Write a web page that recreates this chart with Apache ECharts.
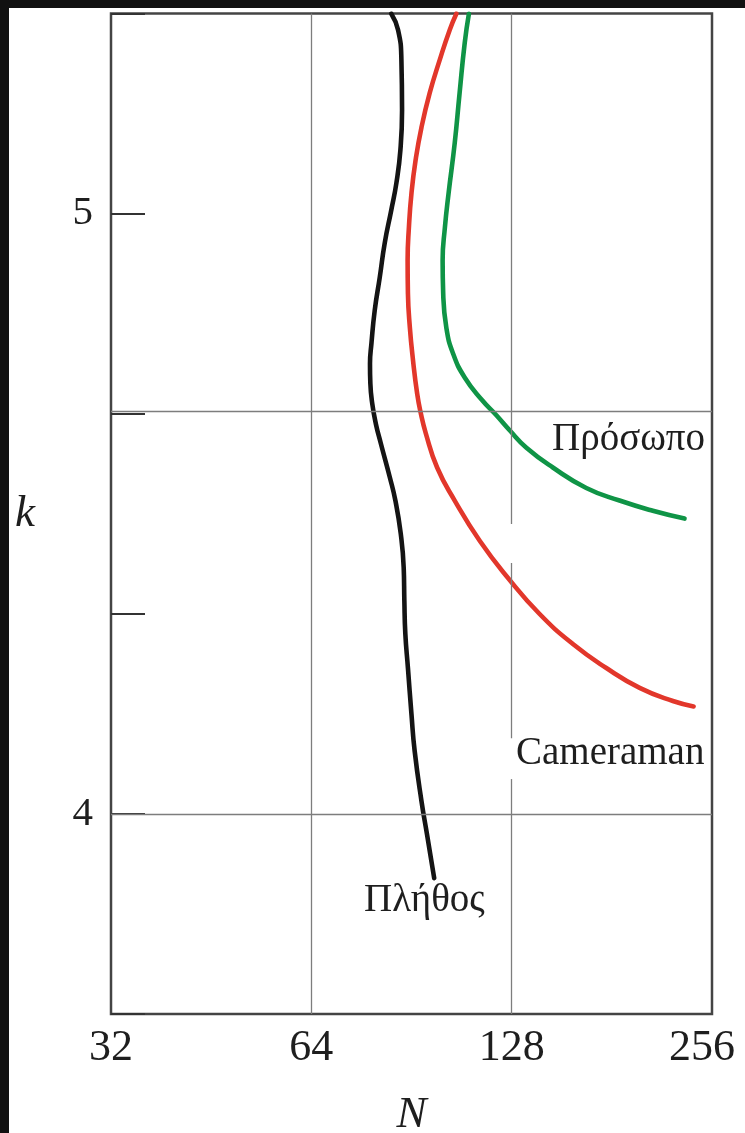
<!DOCTYPE html>
<html>
<head>
<meta charset="utf-8">
<script src="https://cdn.jsdelivr.net/npm/echarts@6/dist/echarts.min.js"></script>
<style>
  html, body { margin: 0; padding: 0; background: #fff; }
  #chart { position: absolute; left: 0; top: 0; width: 745px; height: 1133px; background: #fff; }
  .edge { position: absolute; background: #111; z-index: 5; }
</style>
</head>
<body>
<div id="chart"></div>
<div class="edge" style="left:0;top:0;width:745px;height:8px;"></div>
<div class="edge" style="left:0;top:0;width:9px;height:1133px;"></div>
<script>
// Block size N (log2 axis) versus k for three test images
const xTicks = [32, 64, 128, 256];
const yLabels = [4, 5];

const nPlethos = [84.4, 86.4, 87.4, 87.6, 87.1, 85.9, 84.4, 82.5, 81.1, 79.7, 78.8, 78.4, 78.5, 79.0,
                  80.0, 81.4, 84.0, 85.6, 87.2, 88.1, 88.3, 88.6, 89.4, 90.5, 91.5, 93.7, 95.5, 97.9];
const kPlethos = [5.333, 5.306, 5.256, 5.172, 5.106, 5.051, 5.006, 4.951, 4.894, 4.839, 4.784, 4.750, 4.717, 4.684,
                  4.650, 4.617, 4.560, 4.522, 4.467, 4.410, 4.355, 4.300, 4.243, 4.166, 4.105, 4.021, 3.966, 3.893];

const nCameraman = [105.7, 103.3, 99.8, 96.4, 93.7, 91.8, 90.5, 89.7, 89.3, 89.4, 90.0, 91.0, 92.3, 93.4, 95.1,
                    98.9, 105.1, 114.6, 126.4, 141.0, 158.2, 177.6, 199.3, 223.6, 240.2];
const kCameraman = [5.333, 5.306, 5.256, 5.201, 5.144, 5.089, 5.034, 4.977, 4.922, 4.867, 4.810, 4.755, 4.700, 4.669, 4.634,
                    4.577, 4.522, 4.455, 4.393, 4.333, 4.283, 4.243, 4.210, 4.188, 4.179];

const nProsopo = [110.4, 108.8, 106.9, 105.1, 102.9, 101.6, 100.8, 101.0, 102.1, 104.5, 108.8, 115.6, 121.4,
                  127.1, 134.7, 147.6, 165.7, 185.9, 208.6, 232.8];
const kProsopo = [5.333, 5.284, 5.201, 5.117, 5.034, 4.977, 4.922, 4.867, 4.810, 4.767, 4.727, 4.689, 4.664,
                  4.639, 4.610, 4.577, 4.543, 4.522, 4.505, 4.492];

const zip = (xs, ys) => xs.map((x, i) => [x, ys[i]]);

const TEXT = '#1e1e1e';
const SERIF = '"Liberation Serif", "Times New Roman", serif';
const gridLine = { color: '#7d7d7d', width: 1.3, type: 'solid' };

// the N = 128 rule is interrupted where it passes the annotations
const rule128 = [[16 / 3, 4.483], [4.418, 4.126], [4.058, 11 / 3]];

const chart = echarts.init(document.getElementById('chart'), null, { renderer: 'canvas' });

const curve = (name, data, color) => ({
  name, type: 'line', data, z: 3,
  smooth: 0.5, symbol: 'none', animation: false,
  lineStyle: { color, width: 4.6, cap: 'round', join: 'round' }
});

const xLabelStyle = { fontFamily: SERIF, fontSize: 44, color: TEXT };

chart.setOption({
  animation: false,
  backgroundColor: '#fff',
  grid: {
    left: 111, top: 13.5, width: 601, height: 1000.5,
    containLabel: false, outerBoundsMode: 'none',
    show: true, borderColor: '#444', borderWidth: 2.5, backgroundColor: 'transparent'
  },
  xAxis: {
    type: 'log', logBase: 2, min: xTicks[0], max: xTicks[xTicks.length - 1],
    axisLine: { show: false }, axisTick: { show: false }, splitLine: { show: false },
    axisLabel: {
      ...xLabelStyle, margin: 12,
      showMinLabel: true, showMaxLabel: true,
      formatter: v => {
        const t = xTicks.find(t => Math.abs(t - v) < 1e-6);
        if (t === undefined) return '';
        // the last label is pulled in so that it stays on the page
        return t === xTicks[xTicks.length - 1] ? '{last|' + t + '}' : String(t);
      },
      rich: { last: { ...xLabelStyle, padding: [0, 20, 0, 0] } }
    },
    name: 'N', nameLocation: 'middle', nameGap: 79,
    nameTextStyle: { fontFamily: SERIF, fontSize: 45, fontStyle: 'italic', color: TEXT }
  },
  yAxis: {
    type: 'value', min: 11 / 3, max: 16 / 3, interval: 1 / 3,
    axisLine: { show: false },
    axisTick: { show: true, inside: true, length: 34, lineStyle: { color: '#333', width: 2 } },
    splitLine: { show: false },
    axisLabel: {
      fontFamily: SERIF, fontSize: 41, color: TEXT, margin: 18,
      showMinLabel: true, showMaxLabel: true,
      formatter: v => {
        const hit = yLabels.find(t => Math.abs(t - v) < 1e-6);
        return hit === undefined ? '' : String(hit);
      }
    },
    name: 'k', nameLocation: 'middle', nameRotate: 0, nameGap: 76,
    nameTextStyle: { fontFamily: SERIF, fontSize: 45, fontStyle: 'italic', color: TEXT }
  },
  series: [
    {
      type: 'line', data: [], z: 1, silent: true,
      markLine: {
        silent: true, symbol: 'none', animation: false, label: { show: false },
        lineStyle: gridLine,
        data: [
          { xAxis: 64 },
          { yAxis: 4 },
          { yAxis: 14 / 3 },
          ...rule128.map(([a, b]) => [{ coord: [128, a] }, { coord: [128, b] }])
        ]
      }
    },
    curve('Πλήθος', zip(nPlethos, kPlethos), '#141414'),
    curve('Cameraman', zip(nCameraman, kCameraman), '#e2372b'),
    curve('Πρόσωπο', zip(nProsopo, kProsopo), '#0f9446')
  ],
  graphic: [
    { type: 'text', left: 552, top: 420, z: 10,
      style: { text: 'Πρόσωπο', fontFamily: SERIF, fontSize: 39, fill: TEXT } },
    { type: 'text', left: 516, top: 734, z: 10,
      style: { text: 'Cameraman', fontFamily: SERIF, fontSize: 39, fill: TEXT } },
    { type: 'text', left: 364, top: 881, z: 10,
      style: { text: 'Πλήθος', fontFamily: SERIF, fontSize: 39, fill: TEXT } }
  ]
});
</script>
</body>
</html>
